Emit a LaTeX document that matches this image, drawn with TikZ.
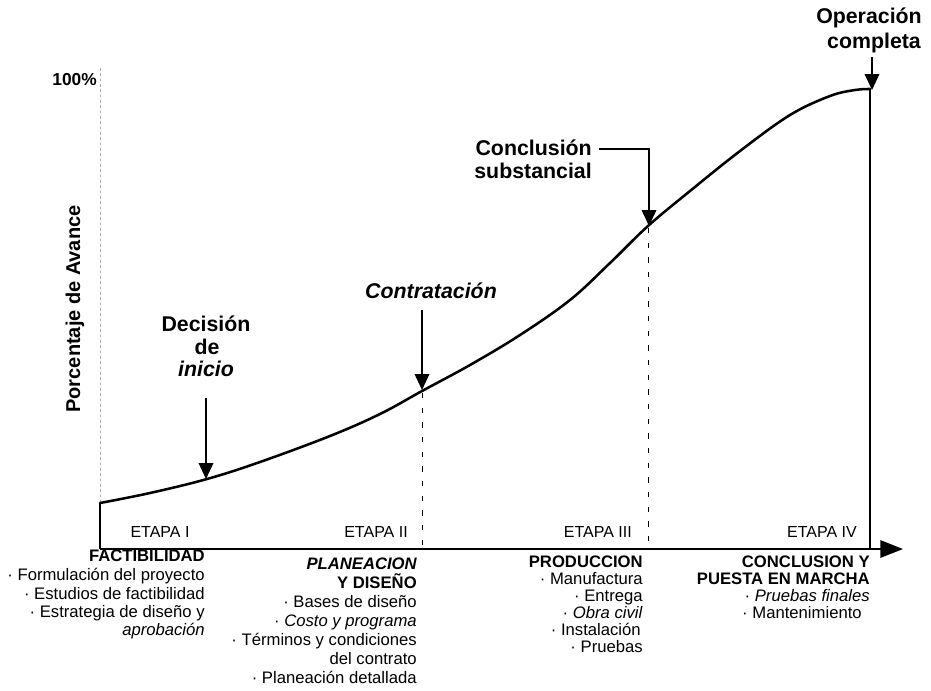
\documentclass[tikz,border=0pt]{standalone}
\usepackage{fontspec}
\setmainfont{Liberation Sans}
\usetikzlibrary{arrows.meta}
\begin{document}
\begin{tikzpicture}[x=0.75pt,y=-0.75pt,
  listtext/.style={font=\fontsize{12.5}{15}\selectfont, anchor=east, inner sep=0pt, text height=9.5pt, text depth=2.5pt},
  headtext/.style={listtext, font=\fontsize{12.5}{15}\selectfont\bfseries},
  milestone/.style={font=\fontsize{16}{19}\selectfont\bfseries, inner sep=0pt, text height=12pt, text depth=3pt},
  etapa/.style={font=\fontsize{12}{14}\selectfont, inner sep=0pt, text height=9pt, text depth=2pt},
  pointer/.style={line width=1.1pt, -{Triangle[width=11pt,length=12pt]}},
  progress/.style={line width=1.9pt, line join=round, line cap=round},
  axisline/.style={line width=1.6pt},
  separator/.style={line width=0.7pt, dash pattern=on 4pt off 7pt},
]
\useasboundingbox (0,0) rectangle (931,690);

% axes
\coordinate (origin) at (100,549);
\coordinate (xend) at (903,549);
\coordinate (ytop) at (100,68);
\coordinate (start) at (100,503);
\coordinate (finish) at (870,89);
\draw[gray!70, line width=0.6pt, dash pattern=on 2pt off 2pt] (ytop) -- (start);
\draw[axisline] (start) -- (origin);
\draw[axisline, -{Triangle[width=13pt,length=17pt]}] (origin) -- (xend);
\draw[axisline] (finish) -- (finish |- origin);

% progress curve
\draw[progress] plot[smooth, tension=0.6] coordinates {
  (100,503) (150,493) (207,479) (260,462) (330,436) (380,414) (422,391)
  (470,365) (520,335) (570,300) (610,263) (648,226) (690,191) (740,151)
  (790,115) (830,96) (855,90) (870,89)};

% stage separators
\coordinate (sepA) at (422,393);
\coordinate (sepB) at (648,228);
\draw[separator] (sepA) -- (sepA |- origin);
\draw[separator] (sepB) -- (sepB |- origin);

% axis labels
\node[font=\fontsize{13}{15}\selectfont\bfseries, anchor=east, inner sep=0pt] (pct) at (97,80) {100\%};
\node[font=\fontsize{15}{18}\selectfont\bfseries, rotate=90, inner sep=0pt] (ylabel) at (75,309) {Porcentaje de Avance};

% milestones
\node[milestone] (decA) at (206,325) {Decisión};
\node[milestone] (decB) at (207,348) {de};
\node[milestone] (decC) at (206,370) {\itshape inicio};
\coordinate (decStart) at (206,398);
\coordinate (decTip) at (206,479);
\draw[pointer] (decStart) -- (decTip);

\node[milestone] (contr) at (431,292) {\itshape Contratación};
\coordinate (contrStart) at (422,310);
\coordinate (contrTip) at (422,390);
\draw[pointer] (contrStart) -- (contrTip);

\node[milestone, anchor=east] (conA) at (592,149) {Conclusión};
\node[milestone, anchor=east] (conB) at (592,172) {substancial};
\coordinate (conTip) at (649,226);
\draw[pointer] ([xshift=5pt]conA.east) -| (conTip);

\node[milestone] (opA) at (869,17) {Operación};
\node[milestone] (opB) at (874,42) {completa};
\coordinate (opStart) at (872,57);
\coordinate (opTip) at (872,90);
\draw[pointer] (opStart) -- (opTip);

% stage names
\node[etapa] (e1) at (160,533) {ETAPA I};
\node[etapa, anchor=east] (e2) at (408,533) {ETAPA II};
\node[etapa, anchor=east] (e3) at (632,533) {ETAPA III};
\node[etapa, anchor=east] (e4) at (857,533) {ETAPA IV};

% stage I
\node[headtext] (s1a) at (205,557) {FACTIBILIDAD};
\node[listtext] (s1b) at (205,576) {· Formulación del proyecto};
\node[listtext] (s1c) at (205,595) {· Estudios de factibilidad};
\node[listtext] (s1d) at (205,613) {· Estrategia de diseño y};
\node[listtext] (s1e) at (205,631) {\itshape aprobación};

% stage II
\node[headtext] (s2a) at (417,565) {\itshape PLANEACION};
\node[headtext] (s2b) at (417,584) {Y DISEÑO};
\node[listtext] (s2c) at (417,603) {· Bases de diseño};
\node[listtext] (s2d) at (417,622) {· \textit{Costo y programa}};
\node[listtext] (s2e) at (417,641) {· Términos y condiciones};
\node[listtext] (s2f) at (417,660) {del contrato};
\node[listtext] (s2g) at (417,679) {· Planeación detallada};

% stage III
\node[headtext] (s3a) at (643,563) {PRODUCCION};
\node[listtext] (s3b) at (643,580) {· Manufactura};
\node[listtext] (s3c) at (643,597) {· Entrega};
\node[listtext] (s3d) at (643,614) {· \textit{Obra civil}};
\node[listtext] (s3e) at (641,631) {· Instalación};
\node[listtext] (s3f) at (643,648) {· Pruebas};

% stage IV
\node[headtext] (s4a) at (870,563) {CONCLUSION Y};
\node[headtext] (s4b) at (870,580) {PUESTA EN MARCHA};
\node[listtext] (s4c) at (870,597) {· \textit{Pruebas finales}};
\node[listtext] (s4d) at (862,614) {· Mantenimiento};
\end{tikzpicture}
\end{document}
